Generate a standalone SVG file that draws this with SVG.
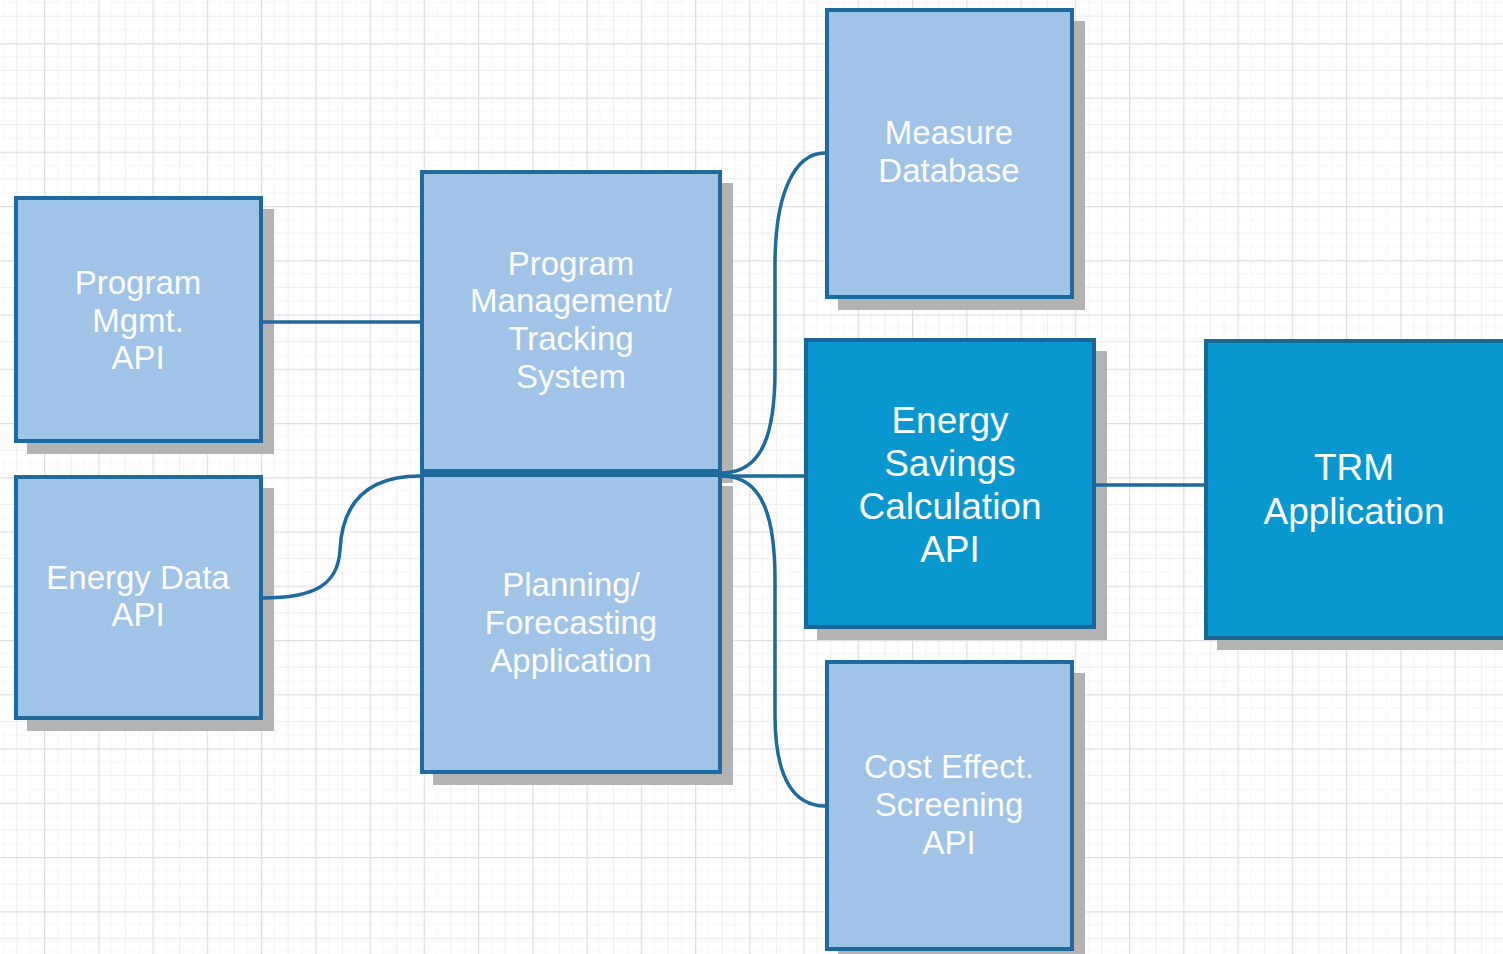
<svg xmlns="http://www.w3.org/2000/svg" width="1503" height="954" viewBox="0 0 1503 954">
<style>
.box{fill:#9fc4e8;stroke:#1f6a9c;stroke-width:4}
.dark{fill:#0898cf;stroke:#1a6794;stroke-width:4}
.shadow{fill:#b3b3b3}
.t{font-family:"Liberation Sans",Arial,sans-serif;font-size:33px;fill:#ffffff;text-anchor:middle}
.tb{font-family:"Liberation Sans",Arial,sans-serif;font-size:37px;fill:#ffffff;text-anchor:middle}
.c{fill:none;stroke:#1f6a9c;stroke-width:3.5}
</style>
<defs>
<pattern id="grid" patternUnits="userSpaceOnUse" x="-10.25" y="-11" width="54.25" height="54.25">
<path d="M13.56 0V54.25M40.69 0V54.25M0 13.56H54.25M0 40.69H54.25" stroke="#f6f6f9" stroke-width="1" fill="none"/>
<path d="M27.12 0V54.25M0 27.12H54.25" stroke="#eeeef3" stroke-width="1" fill="none"/>
<path d="M0.5 0V54.25M0 0.5H54.25" stroke="#dedee8" stroke-width="1.5" fill="none"/>
</pattern>
</defs>
<rect width="1503" height="954" fill="#ffffff"/>
<rect width="1503" height="954" fill="url(#grid)"/>

<g id="program-mgmt-api">
<rect class="shadow" x="27" y="209" width="247" height="245"/>
<rect class="box" x="16" y="198" width="245" height="243"/>
<text class="t" x="138" y="294">Program</text>
<text class="t" x="138" y="332">Mgmt.</text>
<text class="t" x="138" y="369">API</text>
</g>

<g id="energy-data-api">
<rect class="shadow" x="27" y="488" width="247" height="243"/>
<rect class="box" x="16" y="477" width="245" height="241"/>
<text class="t" x="138" y="589">Energy Data</text>
<text class="t" x="138" y="626">API</text>
</g>

<g id="program-management-tracking">
<rect class="shadow" x="433" y="183" width="300" height="300"/>
<rect class="box" x="422" y="172" width="298" height="299"/>
<text class="t" x="571" y="275">Program</text>
<text class="t" x="571" y="312">Management/</text>
<text class="t" x="571" y="350">Tracking</text>
<text class="t" x="571" y="388">System</text>
</g>

<g id="planning-forecasting">
<rect class="shadow" x="433" y="486" width="300" height="299"/>
<rect class="box" x="422" y="475" width="298" height="297"/>
<text class="t" x="571" y="596">Planning/</text>
<text class="t" x="571" y="634">Forecasting</text>
<text class="t" x="571" y="672">Application</text>
</g>

<g id="measure-database">
<rect class="shadow" x="838" y="21" width="247" height="289"/>
<rect class="box" x="827" y="10" width="245" height="287"/>
<text class="t" x="949" y="144">Measure</text>
<text class="t" x="949" y="182">Database</text>
</g>

<g id="energy-savings-calculation-api">
<rect class="shadow" x="817" y="351" width="290" height="289"/>
<rect class="dark" x="806" y="340" width="288" height="287"/>
<text class="tb" x="950" y="433">Energy</text>
<text class="tb" x="950" y="476">Savings</text>
<text class="tb" x="950" y="519">Calculation</text>
<text class="tb" x="950" y="562">API</text>
</g>

<g id="trm-application">
<rect class="shadow" x="1217" y="352" width="300" height="298"/>
<rect class="dark" x="1206" y="341" width="302" height="297"/>
<text class="tb" x="1354" y="480">TRM</text>
<text class="tb" x="1354" y="524">Application</text>
</g>

<g id="cost-effect-screening-api">
<rect class="shadow" x="838" y="673" width="247" height="289"/>
<rect class="box" x="827" y="662" width="245" height="287"/>
<text class="t" x="949" y="778">Cost Effect.</text>
<text class="t" x="949" y="816">Screening</text>
<text class="t" x="949" y="854">API</text>
</g>

<g id="connectors">
<path class="c" d="M262 322H420"/>
<path class="c" d="M262 598C316 598 338 584 340 550C342 508 362 476 420 476"/>
<path class="c" d="M722 473C764 473 775 430 775 370V265C775 192 795 153 825 153"/>
<path class="c" d="M722 476H804"/>
<path class="c" d="M722 476C764 476 775 520 775 580V715C775 780 795 806 825 806"/>
<path class="c" d="M1096 485H1204"/>
</g>
</svg>
